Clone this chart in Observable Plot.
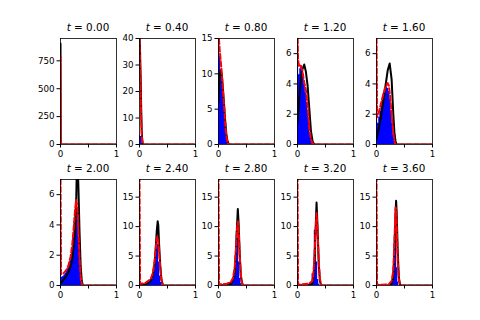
<!DOCTYPE html>
<html><head><meta charset="utf-8">
<script src="https://cdn.jsdelivr.net/npm/d3@7"></script>
<script src="https://cdn.jsdelivr.net/npm/@observablehq/plot@0.6"></script>
<style>
body{margin:0;background:#fff;}
#wrap{position:relative;width:480px;height:320px;overflow:hidden;background:#fff;font-family:"DejaVu Sans",sans-serif;}
#wrap svg{position:absolute;overflow:visible;}
</style></head><body><div id="wrap"></div>
<script>
// ---- data ----
const times = ["0.00","0.40","0.80","1.20","1.60","2.00","2.40","2.80","3.20","3.60"];
const yMaxes = [950, 40, 15, 7, 7, 7, 18, 18, 18, 18];
const yTicks0 = [0, 250, 500, 750];
const yTicks1 = [0, 10, 20, 30, 40];
const yTicks2 = [0, 5, 10, 15];
const yTicks3 = [0, 2, 4, 6];
const xTicks = [0, 0.5, 1];
const xTickLabels = ["0", "", "1"];
const binEdges = [0,0.02,0.04,0.06,0.08,0.10,0.12,0.14,0.16,0.18,0.20,0.22,0.24,0.26,0.28,0.30,0.32,0.34,0.36,0.38,0.40,0.42,0.44];

const hist0 = [];
const hist1 = [3.3, 3.0, 0.5];
const hist2 = [15, 12.5, 10.5, 9, 7, 5, 3, 1.5, 0.5, 0.1];
const hist3 = [7.5, 4.6, 5.0, 5.2, 5.0, 4.6, 4.0, 3.4, 2.8, 2.1, 1.4, 0.8, 0.4, 0.1];
const hist4 = [4.85, 1.4, 1.8, 2.2, 2.6, 3.0, 3.4, 3.7, 3.7, 3.8, 3.7, 3.5, 3.0, 2.2, 1.4, 0.6, 0.2];
const hist5 = [3.45, 0.55, 0.6, 0.7, 0.8, 0.95, 1.1, 1.3, 1.6, 2.0, 2.5, 3.2, 4.2, 5.0, 5.5, 5.0, 3.2, 1.3, 0.3, 0.05];
const hist6 = [3.2, 0.2, 0.2, 0.2, 0.25, 0.3, 0.3, 0.35, 0.4, 0.5, 0.7, 1.0, 1.6, 2.6, 4.5, 7.3, 7.0, 4.0, 1.6, 0.5, 0.1];
const hist7 = [2.9, 0.1, 0.1, 0.1, 0.1, 0.1, 0.15, 0.15, 0.2, 0.2, 0.5, 0.7, 0.8, 1.0, 1.5, 5.0, 9.3, 8.0, 4.0, 1.2, 0.3];
const hist8 = [2.85, 0.05, 0.05, 0.05, 0.05, 0.05, 0.05, 0.05, 0.05, 0.05, 0.05, 0.1, 0.3, 2.0, 0.7, 9.4, 8.0, 4.0, 1.0, 0.2];
const hist9 = [2.9, 0.05, 0.05, 0.05, 0.05, 0.05, 0.05, 0.05, 0.05, 0.05, 0.05, 0.05, 0.1, 0.6, 1.1, 3.0, 8.8, 8.5, 3.0, 0.6];

const black0 = [[0,905],[0.004,0],[1,0]];
const black1 = [[0,42],[0.01,35],[0.02,26],[0.03,14],[0.04,5],[0.05,1.2],[0.06,0.2],[0.07,0],[1,0]];
const black2 = [[0,6],[0.01,8.5],[0.02,10],[0.04,10.5],[0.06,9.8],[0.08,7.8],[0.10,5.6],[0.12,3.3],[0.14,1.5],[0.16,0.5],[0.18,0.1],[0.20,0],[1,0]];
const black3 = [[0,1.4],[0.03,3.0],[0.06,4.3],[0.09,5.0],[0.12,5.28],[0.15,4.8],[0.18,3.9],[0.21,2.4],[0.24,0.9],[0.27,0.2],[0.30,0],[1,0]];
const black4 = [[0,0.4],[0.05,1.2],[0.10,2.3],[0.15,3.6],[0.20,4.9],[0.235,5.35],[0.27,4.3],[0.30,2.0],[0.32,0.8],[0.34,0.2],[0.36,0],[1,0]];
const black5 = [[0,0.15],[0.05,0.35],[0.10,0.6],[0.15,0.95],[0.20,1.5],[0.23,2.4],[0.26,3.6],[0.28,5.5],[0.29,7.5],[0.30,8.2],[0.31,7.6],[0.32,6.5],[0.34,3.5],[0.36,1.3],[0.38,0.3],[0.40,0],[1,0]];
const black6 = [[0,0.05],[0.10,0.15],[0.20,0.8],[0.24,1.8],[0.27,3.8],[0.29,6.5],[0.31,9.5],[0.325,10.9],[0.335,10.3],[0.35,7.0],[0.37,3.5],[0.39,1.2],[0.41,0.3],[0.43,0],[1,0]];
const black7 = [[0,0.02],[0.15,0.1],[0.22,0.3],[0.26,0.9],[0.29,2.5],[0.31,5.5],[0.33,10],[0.345,13],[0.36,10.5],[0.38,5],[0.40,1.6],[0.42,0.4],[0.44,0],[1,0]];
const black8 = [[0,0.01],[0.20,0.1],[0.26,0.3],[0.28,1.0],[0.30,3.2],[0.32,8.5],[0.34,14.1],[0.36,9.5],[0.38,3.5],[0.40,0.8],[0.42,0.1],[0.44,0],[1,0]];
const black9 = [[0,0.01],[0.22,0.05],[0.27,0.3],[0.30,1.5],[0.32,6.0],[0.34,12],[0.35,14.4],[0.36,12.5],[0.38,5.5],[0.40,1.3],[0.42,0.2],[0.44,0],[1,0]];

const red0 = [[0,790],[0.004,0],[1,0]];
const red1 = [[0,39.5],[0.01,30],[0.02,20],[0.03,10],[0.04,4],[0.05,1.3],[0.06,0.3],[0.07,0],[1,0]];
const red2 = [[0,16],[0.02,13.5],[0.04,11.8],[0.06,10],[0.08,7.6],[0.10,5.4],[0.12,3.0],[0.14,1.2],[0.16,0.3],[0.18,0],[1,0]];
const red3 = [[0,7.5],[0.01,5.6],[0.03,5.15],[0.06,5.2],[0.09,4.8],[0.12,4.1],[0.15,3.6],[0.18,2.6],[0.21,1.1],[0.24,0.35],[0.27,0.05],[0.30,0],[1,0]];
const red4 = [[0,7.5],[0.01,1.8],[0.04,2.1],[0.08,2.7],[0.12,3.3],[0.16,3.8],[0.20,4.05],[0.22,3.9],[0.24,3.3],[0.26,2.5],[0.28,1.6],[0.30,0.8],[0.32,0.25],[0.34,0],[1,0]];
const red5 = [[0,7.5],[0.01,0.75],[0.05,0.8],[0.10,1.0],[0.14,1.3],[0.18,1.9],[0.21,2.7],[0.24,4.0],[0.26,5.0],[0.28,5.65],[0.30,5.2],[0.32,3.6],[0.34,1.8],[0.36,0.6],[0.38,0.1],[0.40,0],[1,0]];
const red6 = [[0,18.5],[0.01,0.3],[0.10,0.4],[0.20,1.1],[0.24,2.2],[0.27,4.2],[0.29,6.3],[0.31,8.0],[0.32,8.3],[0.33,8.0],[0.35,5.8],[0.37,3.0],[0.39,1.1],[0.41,0.3],[0.43,0],[1,0]];
const red7 = [[0,18.5],[0.01,0.2],[0.15,0.3],[0.22,0.6],[0.26,1.3],[0.29,3.2],[0.31,6],[0.33,9.5],[0.345,10.9],[0.36,9.3],[0.38,5],[0.40,1.8],[0.42,0.5],[0.44,0],[1,0]];
const red8 = [[0,18.5],[0.01,0.15],[0.20,0.3],[0.26,0.7],[0.28,1.6],[0.30,4.2],[0.32,9.0],[0.34,12.3],[0.36,9.0],[0.38,4.0],[0.40,1.2],[0.42,0.2],[0.44,0],[1,0]];
const red9 = [[0,18.5],[0.01,0.1],[0.22,0.2],[0.27,0.8],[0.30,2.5],[0.32,7.5],[0.34,13.3],[0.35,13.0],[0.36,10.5],[0.38,4.0],[0.40,1.0],[0.42,0.2],[0.44,0],[1,0]];

// ---- assembly ----
const hists = [hist0,hist1,hist2,hist3,hist4,hist5,hist6,hist7,hist8,hist9];
const blacks = [black0,black1,black2,black3,black4,black5,black6,black7,black8,black9];
const reds = [red0,red1,red2,red3,red4,red5,red6,red7,red8,red9];
const yTickSets = [yTicks0,yTicks1,yTicks2,yTicks3,yTicks3,yTicks3,yTicks2,yTicks2,yTicks2,yTicks2];

const wrap = document.getElementById("wrap");
const ML = 28, MR = 6, MT = 20, MB = 20, PW = 56, PH = 106;
const lefts = [60, 139, 218, 297, 376];
const tops = [38, 179];

for (let i = 0; i < 10; i++) {
  // histogram as a step outline (bin left edges + closing edge) so bars join without seams
  const histData = hists[i].map((h, j) => ({x: binEdges[j], h}));
  if (hists[i].length) histData.push({x: binEdges[hists[i].length], h: 0});
  const svg = Plot.plot({
    width: ML + PW + MR, height: MT + PH + MB,
    marginLeft: ML, marginRight: MR, marginTop: MT, marginBottom: MB,
    style: {background: "transparent", fontFamily: "DejaVu Sans", fontSize: "8.7px", color: "black", overflow: "visible"},
    x: {domain: [0, 1], ticks: xTicks, tickFormat: d => xTickLabels[xTicks.indexOf(d)], tickSize: 3.5, tickPadding: 3, label: null},
    y: {domain: [0, yMaxes[i]], ticks: yTickSets[i], tickFormat: d => String(d), tickSize: 3.5, tickPadding: 2.5, label: null},
    marks: [
      Plot.areaY(histData, {x: "x", y: "h", curve: "step-after", fill: "#0000ff", clip: true}),
      Plot.line(blacks[i], {x: d => d[0], y: d => d[1], stroke: "black", strokeWidth: 2, clip: true}),
      Plot.line(reds[i], {x: d => d[0], y: d => d[1], stroke: "red", strokeWidth: 2, strokeDasharray: "5,2.5", clip: true}),
      Plot.frame({stroke: "black", strokeWidth: 0.8})
    ]
  });
  svg.style.left = (lefts[i % 5] - ML) + "px";
  svg.style.top = (tops[Math.floor(i / 5)] - MT) + "px";
  const t = d3.select(svg).append("text")
    .attr("x", ML + PW / 2).attr("y", MT - 7)
    .attr("text-anchor", "middle")
    .attr("fill", "black")
    .style("font-family", "DejaVu Sans")
    .style("font-size", "10.4px");
  t.append("tspan").style("font-style", "italic").text("t");
  t.append("tspan").text(" = " + times[i]);
  wrap.appendChild(svg);
}
</script>
</body></html>
